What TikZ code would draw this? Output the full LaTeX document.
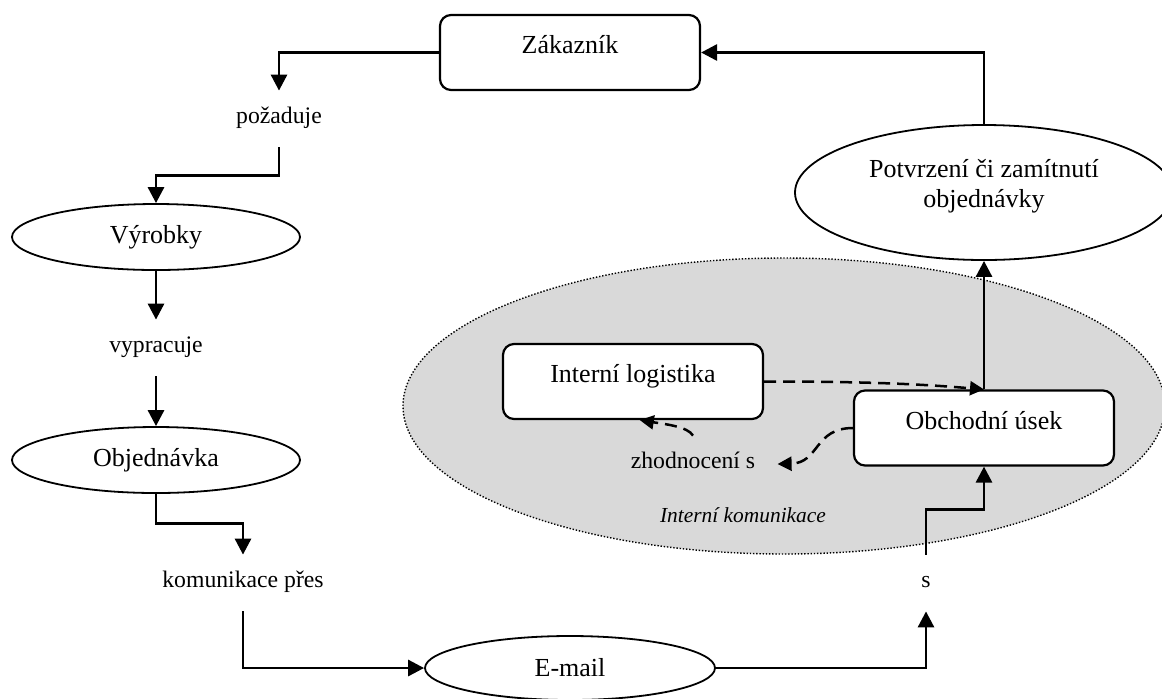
\documentclass[tikz,border=0pt]{standalone}
\usepackage{fontspec}
\setmainfont{Liberation Serif}
\usetikzlibrary{arrows.meta,shapes.geometric}
\begin{document}
\begin{tikzpicture}[x=0.5pt,y=-0.5pt,
  boxnode/.style={draw, line width=1.1pt, rounded corners=5.5pt, fill=white,
    minimum width=130pt, minimum height=37.5pt, inner sep=0pt,
    font=\fontsize{13}{15}\selectfont, text height=9pt, text depth=8pt},
  ellnode/.style={draw, ellipse, line width=0.9pt, fill=white, inner sep=0pt,
    font=\fontsize{13}{15}\selectfont},
  lab/.style={inner xsep=11pt, inner ysep=0pt, text height=16pt, text depth=12pt,
    anchor=base, font=\fontsize{11.85}{14}\selectfont},
  conn/.style={line width=1.45pt, -{Triangle[length=8pt,width=8pt]}},
  dconn/.style={line width=1.25pt, dash pattern=on 6pt off 3.5pt,
    -{Triangle[length=7pt,width=7pt]}},
]
\useasboundingbox (0,0) rectangle (1162,698);

% internal communication area
\node[ellipse, draw, fill=gray!30, line width=0.7pt, dash pattern=on 0.7pt off 0.9pt,
  minimum width=381pt, minimum height=148pt, inner sep=0pt] (ikarea) at (784,406) {};
\node[anchor=base, inner sep=0pt, font=\fontsize{10.7}{12}\selectfont\itshape] (ik) at (743,522) {Interní komunikace};

% boxes
\node[boxnode] (zak) at (570,52.5) {Zákazník};
\node[boxnode] (il) at (633,381.5) {Interní logistika};
\node[boxnode] (obs) at (984,428) {Obchodní úsek};

% ellipses
\node[ellnode, minimum width=144pt, minimum height=33pt] (vyr) at (156,237) {Výrobky};
\node[ellnode, minimum width=144pt, minimum height=33pt] (obj) at (156,460) {Objednávka};
\node[ellnode, minimum width=145pt, minimum height=32pt] (email) at (570,668) {E-mail};
\node[ellnode, minimum width=189pt, minimum height=67.5pt, align=center, text height=24.5pt, text depth=10pt] (pot) at (984,192.5) {Potvrzení či zamítnutí\\objednávky};

% labels
\node[lab] (poz) at (279,123) {požaduje};
\node[lab] (vyp) at (156,352) {vypracuje};
\node[lab] (kom) at (243,587) {komunikace přes};
\node[lab] (s) at (926,587) {s};
\node[lab] (zh) at (693,468) {zhodnocení s};

% solid connectors
\draw[conn] (zak.west) -| (poz.north);
\draw[conn] (poz.south) -- ++(0,28) -| (vyr.north);
\draw[conn] (vyr.south) -- (vyp.north);
\draw[conn] (vyp.south) -- (obj.north);
\draw[conn] (obj.south) -- ++(0,30) -| (kom.north);
\draw[conn] (kom.south) |- (email.west);
\draw[conn] (email.east) -| (s.south);
\draw[conn] (s.north) -- ++(0,-45) -| (obs.south);
\draw[conn] (obs.north) -- (pot.south);
\draw[conn] (pot.north) |- (zak.east);

% dashed connectors
\draw[dconn] (il.east) .. controls +(110,0) and +(-60,-5) .. (obs.north);
\draw[dconn] (obs.west) .. controls +(-39,0) and +(42,-1) .. (zh.east);
\draw[dconn] (zh.north) .. controls +(-5,-9) and +(25,4) .. (il.-80);
\end{tikzpicture}
\end{document}
